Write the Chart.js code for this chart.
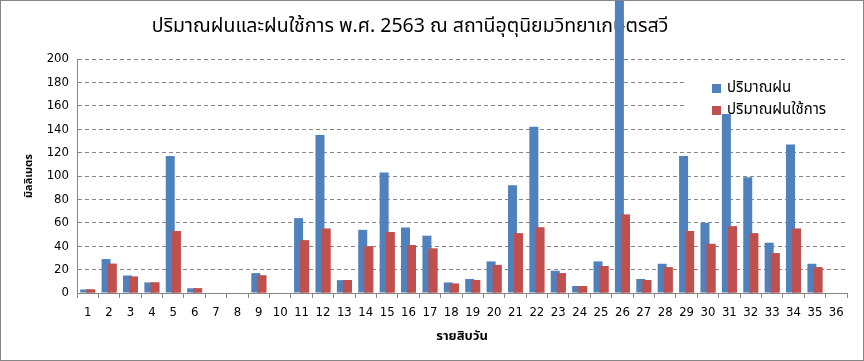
<!DOCTYPE html>
<html><head><meta charset="utf-8">
<script src="https://cdn.jsdelivr.net/npm/chart.js@4.4.1/dist/chart.umd.min.js"></script>
<style>html,body{margin:0;padding:0;background:#fff}#wrap{width:864px;height:361px;position:relative}</style>
</head><body><div id="wrap"><canvas id="c"></canvas></div>
<script>
const chartTitle = 'ปริมาณฝนและฝนใช้การ พ.ศ. 2563 ณ สถานีอุตุนิยมวิทยาเกษตรสวี';
const xTitle = 'รายสิบวัน';
const yTitle = 'มิลลิเมตร';
const seriesNames = ['ปริมาณฝน', 'ปริมาณฝนใช้การ'];
const categories = ['1','2','3','4','5','6','7','8','9','10','11','12','13','14','15','16','17','18','19','20','21','22','23','24','25','26','27','28','29','30','31','32','33','34','35','36'];
const rainfall = [3,29,15,9,117,4,0,0,17,0,64,135,11,54,103,56,49,9,12,27,92,142,19,6,27,260,12,25,117,60,153,99,43,127,25,0];
const effectiveRain = [3,25,14,9,53,4,0,0,15,0,45,55,11,40,52,41,38,8,11,24,51,56,17,6,23,67,11,22,53,42,57,51,34,55,22,0];
const yMin = 0, yMax = 200, yStep = 20;
const colors = ['#4F81BD', '#C0504D'];

const THAI = '"Noto Sans Thai", "Noto Sans Thai UI", Tahoma, "Noto Sans", "DejaVu Sans", sans-serif';
const NUM = '"DejaVu Sans Condensed", "DejaVu Sans", sans-serif';

const overlayPlugin = {
  id: 'overlay',
  beforeDraw(chart) {
    const ctx = chart.ctx;
    ctx.save();
    ctx.font = '19.5px ' + THAI;
    ctx.fillStyle = '#000';
    ctx.textAlign = 'center';
    ctx.textBaseline = 'middle';
    ctx.fillText(chartTitle, 410, 28);
    ctx.restore();
  },
  beforeDatasetsDraw(chart) {
    const ctx = chart.ctx;
    ctx.save();
    ctx.fillStyle = '#fff';
    ctx.fillRect(686, 74, 160, 38);
    ctx.restore();
  },
  afterDatasetsDraw(chart) {
    // red series drawn above the blue where they overlap
    chart.getDatasetMeta(1).controller.draw();
    const ctx = chart.ctx;
    ctx.save();
    ctx.font = '15px ' + THAI;
    ctx.textBaseline = 'middle';
    ctx.textAlign = 'left';
    seriesNames.forEach((name, i) => {
      const y = 88.5 + i * 22;
      ctx.fillStyle = colors[i];
      ctx.fillRect(712, y - 4.5, 9, 9);
      ctx.fillStyle = '#000';
      ctx.fillText(name, 727, y);
    });
    ctx.restore();
  },
  afterDraw(chart) {
    const ctx = chart.ctx;
    ctx.save();
    ctx.strokeStyle = '#868686';
    ctx.lineWidth = 1;
    ctx.strokeRect(0.5, 0.5, 863, 360);
    ctx.restore();
  }
};

new Chart(document.getElementById('c'), {
  type: 'bar',
  data: {
    labels: categories,
    datasets: [
      { label: seriesNames[0], data: rainfall, backgroundColor: colors[0], clip: false },
      { label: seriesNames[1], data: effectiveRain, backgroundColor: colors[1] }
    ]
  },
  options: {
    responsive: true,
    maintainAspectRatio: false,
    animation: false,
    datasets: { bar: { categoryPercentage: 0.561, barPercentage: 1.5 } },
    layout: { padding: { left: 0, right: 17, top: 59, bottom: 0 } },
    plugins: {
      legend: { display: false },
      tooltip: { enabled: false },
      title: { display: false }
    },
    scales: {
      x: {
        grid: { display: true, drawOnChartArea: false, drawTicks: true, tickLength: 5, color: '#868686', offset: true },
        border: { display: true, color: '#868686', width: 1 },
        ticks: { color: '#000', font: { family: NUM, size: 13 }, padding: 7, maxRotation: 0, autoSkip: false },
        title: { display: true, text: xTitle, color: '#000', font: { family: THAI, size: 13, weight: 'bold', lineHeight: 1.2 }, padding: { top: 0, bottom: 16 } },
        afterFit(s) { s.height = 68; }
      },
      y: {
        min: yMin, max: yMax,
        grid: { color: '#868686', drawTicks: false },
        border: { display: true, color: '#868686', width: 1, dash: [4, 3] },
        ticks: { stepSize: yStep, color: '#000', font: { family: NUM, size: 13 }, padding: 8 },
        title: { display: true, text: yTitle, color: '#000', font: { family: THAI, size: 11, weight: 'bold', lineHeight: 1.2 }, padding: { top: 23, bottom: 0 } },
        afterFit(s) { s.width = 77; }
      }
    }
  },
  plugins: [overlayPlugin]
});
</script>
</body></html>
